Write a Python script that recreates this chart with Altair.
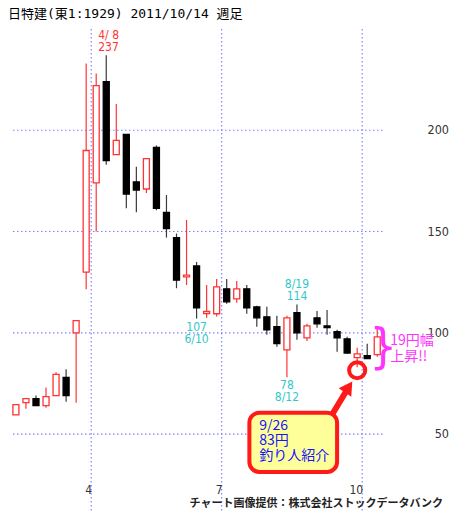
import altair as alt
import pandas as pd

# ---- weekly candles (week ending Friday), 2011 ----
weeks = ["2/4", "2/10", "2/18", "2/25", "3/4", "3/11", "3/18", "3/25", "4/1", "4/8",
         "4/15", "4/22", "4/28", "5/6", "5/13", "5/20", "5/27", "6/3", "6/10", "6/17",
         "6/24", "7/1", "7/8", "7/15", "7/22", "7/29", "8/5", "8/12", "8/19", "8/26",
         "9/2", "9/9", "9/16", "9/22", "9/30", "10/7", "10/14"]
opens = [59.5, 65.5, 67.5, 64, 69, 78, 100, 130, 174, 224, 188, 198, 174.5, 171, 191.5, 159.5,
         147, 127.6, 133, 109.5, 109.4, 121.7, 116.7, 121.7, 112.8, 107.9, 103, 91.6, 110, 97.5,
         107.4, 103.4, 100.5, 97, 87.7, 88.7, 89.2]
highs = [64.5, 67.5, 69, 73, 80.5, 82, 106, 233, 228, 237, 213, 198, 182, 186, 192.5, 168,
         149, 155.7, 135, 123.6, 126.6, 126.6, 125.6, 123.6, 113.3, 112.8, 108.4, 108.4, 114, 104.4,
         110.8, 111.3, 101.5, 98, 92.6, 94.6, 102]
lows = [59.5, 62.5, 64, 63, 69, 66, 65.5, 121.5, 150, 183, 188, 161.5, 159.5, 169, 160.5, 147,
        122, 123.6, 107, 107.4, 108, 114.3, 114.8, 109.4, 103, 99, 93.1, 78, 96.6, 96,
        102.5, 99, 90.6, 89.6, 83, 87.2, 88.2]
closes = [64.5, 67.5, 64, 68.5, 79.5, 69, 106, 190, 222, 185, 195, 168.5, 170.5, 186, 161.5, 151.5,
          126, 128.5, 112.3, 110.5, 122.7, 115.3, 121.7, 112.3, 107.4, 101.5, 94.6, 107.4, 100, 103.4,
          104.4, 102.5, 97.5, 90, 89.6, 87.2, 98]

price_ticks = [50, 100, 150, 200]
price_labels = ["50", "100", "150", "200"]
month_breaks = [7.5, 20.5, 34.5]
month_labels = ["4", "7", "10"]

title_text = "日特建(東1:1929)  2011/10/14  週足"
credit_text = "チャート画像提供：株式会社ストックデータバンク"

RED = "#ff3333"
CYAN = "#33c8c8"
MAGENTA = "#ff33ff"
BLUE = "#1414ff"
GRID = "#8080ff"
NARROW = "Liberation Sans Narrow, DejaVu Sans Condensed, sans-serif"
JP = "Noto Sans CJK JP"

X_LO, X_HI = -0.29, 42.75      # week-index range of the drawing area
GRID_END = 36.6                # horizontal grid stops just after the last week

df = pd.DataFrame({"i": list(range(len(weeks))), "week": weeks, "open": opens,
                   "high": highs, "low": lows, "close": closes})
up = df["close"] >= df["open"]
df["fill"] = ["white" if u else "black" for u in up]
df["edge"] = [RED if u else "black" for u in up]
df["wickc"] = [RED if u else "#3a3a3a" for u in up]

xs = alt.Scale(domain=[X_LO, X_HI], nice=False, zero=False)
ys = alt.Scale(domain=[12, 250], nice=False, zero=False)


def X(f):
    return alt.X(f, scale=xs, axis=None)


def Y(f):
    return alt.Y(f, scale=ys, axis=None)


# gridlines
hgrid = alt.Chart(pd.DataFrame({"p": price_ticks, "a": X_LO, "b": GRID_END})).mark_rule(
    color=GRID, strokeDash=[1.5, 2.5], strokeWidth=1.2).encode(y=Y("p:Q"), x=X("a:Q"), x2="b:Q")
vgrid = alt.Chart(pd.DataFrame({"m": month_breaks})).mark_rule(
    color=GRID, strokeDash=[1.5, 2.5], strokeWidth=1.2).encode(x=X("m:Q"))

# price labels on the right
ylab = alt.Chart(pd.DataFrame({"p": price_ticks, "t": price_labels})).mark_text(
    align="right", baseline="middle", font=NARROW, fontSize=12.5, color="#333333").encode(
    y=Y("p:Q"), x=alt.value(441), text="t:N")

base = alt.Chart(df)
wicks = base.mark_rule(strokeWidth=1.2).encode(
    x=X("i:Q"), y=Y("low:Q"), y2="high:Q", color=alt.Color("wickc:N", scale=None))
bodies = base.mark_bar(size=6, strokeWidth=1.3).encode(
    x=X("i:Q"), y=Y("open:Q"), y2="close:Q",
    fill=alt.Fill("fill:N", scale=None), stroke=alt.Stroke("edge:N", scale=None))


def txt(rows, color, size, align="center", baseline="middle", font=NARROW, weight="normal", **kw):
    d = pd.DataFrame(rows, columns=["x", "y", "t"])
    return alt.Chart(d).mark_text(align=align, baseline=baseline, color=color, fontSize=size,
                                  font=font, fontWeight=weight, **kw).encode(
        x=X("x:Q"), y=Y("y:Q"), text="t:N")


# month labels along the bottom
mlab = txt([[m, 22.4, l] for m, l in zip(month_breaks, month_labels)], "#333333", 12,
           align="right", dx=1)

# high / low annotations
hi237 = txt([[9, 237, "237"]], RED, 12, align="left", baseline="bottom", dx=-8, dy=-1)
hi237d = txt([[9, 237, "4/ 8"]], RED, 12, align="left", baseline="bottom", dx=-8, dy=-13)
lo107 = txt([[18, 107, "107"]], CYAN, 12, baseline="top", dy=3)
lo107d = txt([[18, 107, "6/10"]], CYAN, 12, baseline="top", dy=15)
hi114 = txt([[28, 114, "114"]], CYAN, 12, baseline="bottom", dy=-1)
hi114d = txt([[28, 114, "8/19"]], CYAN, 12, baseline="bottom", dy=-13)
lo78 = txt([[27, 78, "78"]], CYAN, 12, baseline="top", dy=3)
lo78d = txt([[27, 78, "8/12"]], CYAN, 12, baseline="top", dy=15)

# red circle on the 9/26 week low
circ = alt.Chart(pd.DataFrame({"x": [34], "y": [81.5]})).mark_point(
    shape="circle", size=260, filled=False, stroke="#ff1a1a", strokeWidth=4, opacity=1).encode(
    x=X("x:Q"), y=Y("y:Q"))

# arrow from callout to the circle
shaft = alt.Chart(pd.DataFrame({"x": [31.55], "x2": [33.1], "y": [60.0], "y2": [72.7]})).mark_rule(
    strokeWidth=6, color="#ff1a1a", strokeCap="butt").encode(
    x=X("x:Q"), x2="x2:Q", y=Y("y:Q"), y2="y2:Q")
head = alt.Chart(pd.DataFrame({"x": [33.15], "y": [73.2]})).mark_point(
    shape="triangle-up", size=230, filled=True, color="#ff1a1a", angle=34, opacity=1).encode(
    x=X("x:Q"), y=Y("y:Q"))

# callout box
box = alt.Chart(pd.DataFrame({"x": [23.26], "x2": [32.0], "y": [60.5], "y2": [31.3]})).mark_rect(
    fill="#ffff99", stroke="#ff1a1a", strokeWidth=4, cornerRadius=10).encode(
    x=X("x:Q"), x2="x2:Q", y=Y("y:Q"), y2="y2:Q")
boxtxt = txt([[24.25, 53.9, "9/26"], [24.25, 46.5, "83円"], [24.25, 39.1, "釣り人紹介"]],
             BLUE, 14, align="left", font=JP)

# brace and rise text
brace = txt([[36.6, 91.8, "}"]], MAGENTA, 48, font="DejaVu Sans Condensed, DejaVu Sans", weight=200)
rise = txt([[37.3, 95.8, "19円幅"], [37.3, 87.9, "上昇!!"]], MAGENTA, 14, align="left", font=JP)

credit = txt([[42.55, 15.3, credit_text]], "#222222", 11, align="right", font=JP, weight="bold")

chart = alt.layer(
    hgrid, vgrid, ylab, wicks, bodies, mlab, hi237, hi237d, lo107, lo107d, hi114, hi114d,
    lo78, lo78d, box, shaft, head, circ, boxtxt, brace, rise, credit
).properties(
    width=442, height=504, padding=0,
    autosize=alt.AutoSizeParams(type="fit", contains="padding"),
    title=alt.TitleParams(title_text, anchor="start", fontSize=13,
                          font="DejaVu Sans Mono, Noto Sans CJK JP",
                          fontWeight="normal", color="#000000", offset=7),
).configure_view(stroke=None)

chart.save("out.html", embed_options={"renderer": "svg", "actions": False})
